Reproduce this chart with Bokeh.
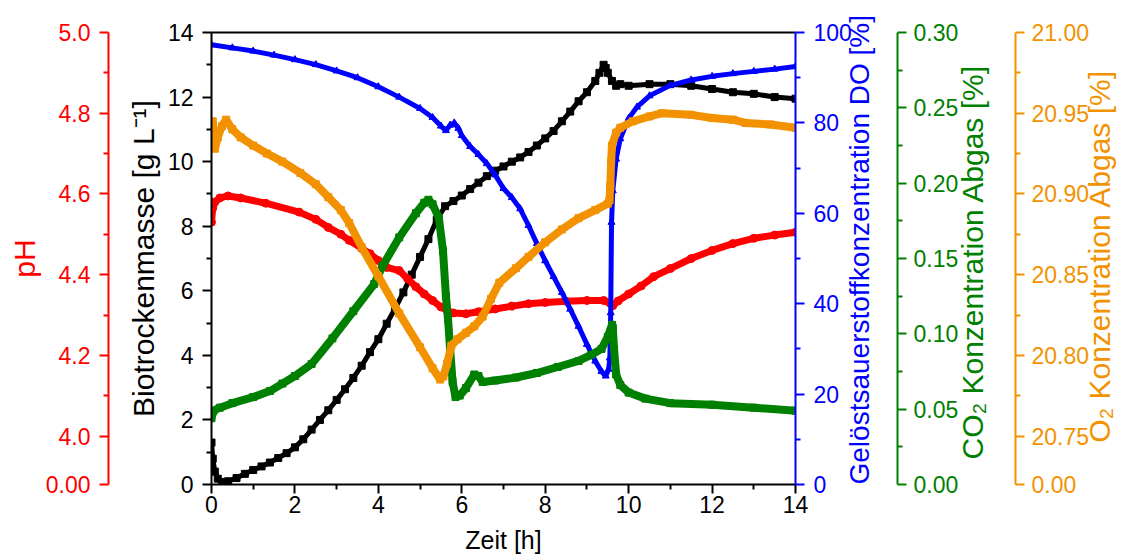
import math
from bokeh.plotting import figure
from bokeh.models import (LinearAxis, Range1d, FixedTicker, CustomJSTickFormatter,
                          NumeralTickFormatter)
from bokeh.embed import file_html
from bokeh.resources import INLINE

# ---------------- data ----------------
time_ticks = [0, 2, 4, 6, 8, 10, 12, 14]
time_minor = [1, 3, 5, 7, 9, 11, 13]
btm_ticks = [0, 2, 4, 6, 8, 10, 12, 14]
btm_minor = [1, 3, 5, 7, 9, 11, 13]
ph_ticks = [3.88, 4.0, 4.2, 4.4, 4.6, 4.8, 5.0]
ph_minor = [4.1, 4.3, 4.5, 4.7, 4.9]
do_ticks = [0, 20, 40, 60, 80, 100]
do_minor = [10, 30, 50, 70, 90]
co2_ticks = [0.0, 0.05, 0.10, 0.15, 0.20, 0.25, 0.30]
co2_minor = [0.025, 0.075, 0.125, 0.175, 0.225, 0.275]
o2_ticks = [20.72, 20.75, 20.80, 20.85, 20.90, 20.95, 21.00]
o2_minor = [20.775, 20.825, 20.875, 20.925, 20.975]

btm_t = [0.0, 0.03, 0.08, 0.15, 0.25, 0.4, 0.6, 0.8, 1.0, 1.2, 1.4, 1.6, 1.8, 2.0, 2.2, 2.4,
         2.6, 2.8, 3.0, 3.2, 3.4, 3.6, 3.8, 4.0, 4.2, 4.4, 4.6, 4.8, 5.0, 5.2, 5.4, 5.6, 5.8,
         6.0, 6.2, 6.4, 6.6, 6.8, 7.0, 7.2, 7.4, 7.6, 7.8, 8.0, 8.2, 8.4, 8.6, 8.8, 9.0, 9.2,
         9.3, 9.4, 9.45, 9.5, 9.6, 9.7, 9.8, 10.0, 10.5, 11.0, 11.5, 12.0, 12.5, 13.0, 13.5, 14.0]
btm_v = [1.30, 0.80, 0.40, 0.18, 0.08, 0.10, 0.20, 0.33, 0.45, 0.56, 0.68, 0.82, 0.97, 1.15,
         1.40, 1.70, 2.00, 2.30, 2.62, 2.95, 3.30, 3.68, 4.10, 4.50, 4.98, 5.45, 5.95, 6.50,
         7.05, 7.60, 8.20, 8.62, 8.78, 8.95, 9.15, 9.35, 9.55, 9.72, 9.85, 10.0, 10.13, 10.3,
         10.5, 10.72, 10.95, 11.25, 11.55, 11.87, 12.15, 12.5, 12.75, 13.0, 12.9, 12.75, 12.5,
         12.35, 12.4, 12.35, 12.4, 12.4, 12.35, 12.25, 12.15, 12.1, 12.0, 11.95]

do_t = [0.0, 0.5, 1.0, 1.5, 2.0, 2.5, 3.0, 3.5, 4.0, 4.5, 5.0, 5.3, 5.5, 5.62, 5.72, 5.82,
        5.92, 6.0, 6.2, 6.4, 6.6, 6.8, 7.0, 7.2, 7.4, 7.6, 7.8, 8.0, 8.2, 8.4, 8.6, 8.8, 9.0,
        9.2, 9.35, 9.45, 9.52, 9.55, 9.57, 9.59, 9.62, 9.7, 9.8, 10.0, 10.2, 10.5, 11.0, 11.5,
        12.0, 12.5, 13.0, 13.5, 14.0]
do_v = [97.3, 96.6, 95.9, 95.0, 94.0, 92.9, 91.5, 90.0, 88.0, 85.7, 83.2, 81.2, 79.3, 78.3,
        79.5, 80.0, 78.8, 77.2, 74.8, 73.0, 71.0, 68.5, 65.5, 63.5, 61.0, 57.3, 53.3, 49.5,
        46.0, 42.5, 38.8, 35.0, 31.0, 27.3, 25.0, 24.0, 25.5, 28.0, 38.0, 58.0, 65.0, 72.0,
        76.5, 81.0, 83.5, 86.0, 88.3, 89.5, 90.3, 90.9, 91.4, 91.9, 92.5]

ph_t = [0.0, 0.03, 0.08, 0.2, 0.4, 0.7, 1.3, 2.1, 2.5, 2.8, 3.1, 3.3, 3.6, 3.8, 4.0, 4.2,
        4.5, 4.7, 4.9, 5.1, 5.3, 5.5, 5.65, 5.8, 6.1, 6.4, 6.8, 7.2, 7.6, 8.0, 8.5, 9.0, 9.4,
        9.55, 9.62, 9.75, 10.0, 10.3, 10.6, 11.0, 11.5, 12.0, 12.5, 13.0, 13.5, 14.0]
ph_v = [4.53, 4.565, 4.58, 4.59, 4.595, 4.59, 4.577, 4.555, 4.537, 4.517, 4.50, 4.485, 4.465,
        4.452, 4.435, 4.418, 4.41, 4.39, 4.37, 4.352, 4.336, 4.32, 4.311, 4.305, 4.303, 4.308,
        4.315, 4.322, 4.328, 4.331, 4.334, 4.336, 4.336, 4.33, 4.323, 4.335, 4.352, 4.372,
        4.395, 4.415, 4.44, 4.46, 4.477, 4.49, 4.498, 4.505]

co2_t = [0.0, 0.05, 0.2, 0.5, 1.0, 1.4, 1.7, 2.0, 2.4, 2.9, 3.4, 3.9, 4.1, 4.5, 4.9, 5.1,
         5.2, 5.3, 5.45, 5.55, 5.62, 5.67, 5.72, 5.78, 5.85, 5.95, 6.1, 6.3, 6.4, 6.5, 6.8,
         7.3, 7.8, 8.3, 8.8, 9.1, 9.35, 9.5, 9.6, 9.62, 9.65, 9.7, 9.8, 10.0, 10.4, 11.0,
         12.0, 13.0, 14.0]
co2_v = [0.044, 0.049, 0.051, 0.054, 0.058, 0.062, 0.067, 0.072, 0.080, 0.097, 0.115, 0.133,
         0.145, 0.164, 0.180, 0.187, 0.189, 0.186, 0.177, 0.155, 0.125, 0.110, 0.090, 0.068,
         0.058, 0.059, 0.064, 0.073, 0.072, 0.068, 0.069, 0.071, 0.074, 0.078, 0.082, 0.086,
         0.090, 0.098, 0.106, 0.104, 0.090, 0.073, 0.066, 0.061, 0.057, 0.054, 0.053, 0.051,
         0.049]

o2_t = [0.0, 0.03, 0.08, 0.15, 0.25, 0.35, 0.5, 0.7, 1.0, 1.33, 1.7, 2.13, 2.5, 2.8, 3.1,
        3.3, 3.6, 4.0, 4.5, 5.0, 5.3, 5.48, 5.56, 5.65, 5.75, 5.9, 6.1, 6.3, 6.5, 6.7, 6.9,
        7.3, 7.6, 8.0, 8.4, 8.8, 9.2, 9.5, 9.54, 9.56, 9.58, 9.6, 9.7, 9.8, 10.1, 10.5, 10.8,
        11.5, 12.0, 12.5, 12.8, 13.4, 14.0]
o2_v = [20.932, 20.945, 20.928, 20.935, 20.942, 20.946, 20.940, 20.935, 20.930, 20.925,
        20.920, 20.913, 20.906, 20.898, 20.890, 20.882, 20.867, 20.849, 20.826, 20.805,
        20.792, 20.785, 20.787, 20.795, 20.806, 20.810, 20.814, 20.818, 20.824, 20.835,
        20.845, 20.854, 20.861, 20.870, 20.878, 20.885, 20.890, 20.894, 20.896, 20.905,
        20.920, 20.930, 20.938, 20.941, 20.945, 20.948, 20.950, 20.949, 20.947, 20.946,
        20.944, 20.943, 20.941]

# ---------------- styling ----------------
FONT = "Liberation Sans"
TICK_FS = "23px"
TITLE_FS = "30px"
NB = "\u00a0"
C_BLACK = "#000000"
C_RED = "#FF0000"
C_BLUE = "#0000FF"
C_GREEN = "#008000"
C_ORANGE = "#F39200"

p = figure(width=1135, height=559, output_backend="svg", toolbar_location=None,
           x_range=Range1d(0, 14), y_range=Range1d(0, 14),
           min_border_left=211, min_border_right=339, min_border_top=32,
           min_border_bottom=75)
p.extra_y_ranges = {
    "ph": Range1d(3.88, 5.0),
    "do": Range1d(0, 100),
    "co2": Range1d(0, 0.30),
    "o2": Range1d(20.72, 21.0),
}
p.xgrid.visible = False
p.ygrid.visible = False
p.outline_line_color = None
p.background_fill_color = "white"
p.border_fill_color = "white"


def style_axis(ax, color, title):
    ax.axis_label = title
    ax.axis_label_text_font = FONT
    ax.axis_label_text_font_size = TITLE_FS
    ax.axis_label_text_font_style = "normal"
    ax.axis_label_text_color = color
    ax.major_label_text_font = FONT
    ax.major_label_text_font_size = TICK_FS
    ax.major_label_text_color = color
    ax.axis_line_color = color
    ax.axis_line_width = 2
    ax.major_tick_line_color = color
    ax.major_tick_line_width = 2
    ax.minor_tick_line_color = color
    ax.minor_tick_line_width = 2
    ax.major_tick_in = 0
    ax.major_tick_out = 9
    ax.minor_tick_in = 0
    ax.minor_tick_out = 5
    ax.major_label_standoff = 9
    ax.axis_label_standoff = 5


def spacer(n):
    # invisible axis that only reserves room in its side panel
    return LinearAxis(y_range_name="do", ticker=FixedTicker(ticks=[]),
                      axis_line_color=None, major_tick_line_color=None,
                      minor_tick_line_color=None, major_tick_in=0, major_tick_out=0,
                      minor_tick_in=0, minor_tick_out=0, major_label_standoff=0,
                      major_label_text_font_size="0px", axis_label=NB,
                      axis_label_text_font_size="1px", axis_label_standoff=n,
                      axis_label_text_color=None)


# x axis
xa = p.xaxis[0]
style_axis(xa, C_BLACK, "Zeit [h]")
xa.axis_label_text_font_size = "25px"
xa.ticker = FixedTicker(ticks=time_ticks, minor_ticks=time_minor)
xa.major_label_standoff = 2
xa.axis_label_standoff = 10

# top frame line
top = LinearAxis(ticker=FixedTicker(ticks=[]), major_tick_out=0, major_tick_in=0,
                 minor_tick_out=0, minor_tick_in=0, major_label_standoff=0,
                 major_label_text_font_size="0px", axis_line_width=2,
                 axis_line_color="black")
p.add_layout(top, "above")

# left: biomass
ya = p.yaxis[0]
style_axis(ya, C_BLACK, "Biotrockenmasse [g L\u207b\u00b9]")
ya.ticker = FixedTicker(ticks=btm_ticks, minor_ticks=btm_minor)

p.add_layout(spacer(11), "left")

ph_ax = LinearAxis(y_range_name="ph")
style_axis(ph_ax, C_RED, "pH")
ph_ax.ticker = FixedTicker(ticks=ph_ticks, minor_ticks=ph_minor)
ph_ax.formatter = CustomJSTickFormatter(code="return tick < 3.95 ? '0.00' : tick.toFixed(1);")
ph_ax.axis_label_standoff = 2
p.add_layout(ph_ax, "left")

# right: DO, CO2, O2 (titles read bottom-to-top, as on the left)
do_ax = LinearAxis(y_range_name="do")
style_axis(do_ax, C_BLUE, "Gel\u00f6stsauerstoffkonzentration DO [%]")
do_ax.ticker = FixedTicker(ticks=do_ticks, minor_ticks=do_minor)
do_ax.major_label_standoff = 9
do_ax.axis_label_text_font_size = "28px"
do_ax.axis_label_orientation = math.pi / 2
do_ax.axis_label_align = "start"
p.add_layout(do_ax, "right")

p.add_layout(spacer(0), "right")

co2_ax = LinearAxis(y_range_name="co2")
style_axis(co2_ax, C_GREEN, NB * 3 + "CO\u2082 Konzentration Abgas [%]")
co2_ax.ticker = FixedTicker(ticks=co2_ticks, minor_ticks=co2_minor)
co2_ax.formatter = NumeralTickFormatter(format="0.00")
co2_ax.major_label_standoff = 7
co2_ax.axis_label_standoff = 11
co2_ax.axis_label_orientation = math.pi / 2
co2_ax.axis_label_align = "start"
p.add_layout(co2_ax, "right")

p.add_layout(spacer(3), "right")

o2_ax = LinearAxis(y_range_name="o2")
style_axis(o2_ax, C_ORANGE, NB * 5 + "O\u2082 Konzentration Abgas [%]")
o2_ax.ticker = FixedTicker(ticks=o2_ticks, minor_ticks=o2_minor)
o2_ax.formatter = CustomJSTickFormatter(code="return tick < 20.74 ? '0.00' : tick.toFixed(2);")
o2_ax.major_label_standoff = 7
o2_ax.axis_label_standoff = 7
o2_ax.axis_label_orientation = math.pi / 2
o2_ax.axis_label_align = "start"
p.add_layout(o2_ax, "right")

# ---------------- data series ----------------
p.line(btm_t, btm_v, line_color=C_BLACK, line_width=5)
p.scatter(btm_t, btm_v, marker="square", size=7, color=C_BLACK)

p.line(ph_t, ph_v, y_range_name="ph", line_color=C_RED, line_width=7)
p.scatter(ph_t, ph_v, y_range_name="ph", marker="circle", size=8, color=C_RED)

p.line(do_t, do_v, y_range_name="do", line_color=C_BLUE, line_width=5)
p.scatter(do_t, do_v, y_range_name="do", marker="triangle", size=7, color=C_BLUE)

p.line(co2_t, co2_v, y_range_name="co2", line_color=C_GREEN, line_width=8)
p.scatter(co2_t, co2_v, y_range_name="co2", marker="square", size=7, color=C_GREEN)

p.line(o2_t, o2_v, y_range_name="o2", line_color=C_ORANGE, line_width=8)
p.scatter(o2_t, o2_v, y_range_name="o2", marker="square", size=7, color=C_ORANGE)

open("out.html", "w").write(file_html(p, INLINE))
